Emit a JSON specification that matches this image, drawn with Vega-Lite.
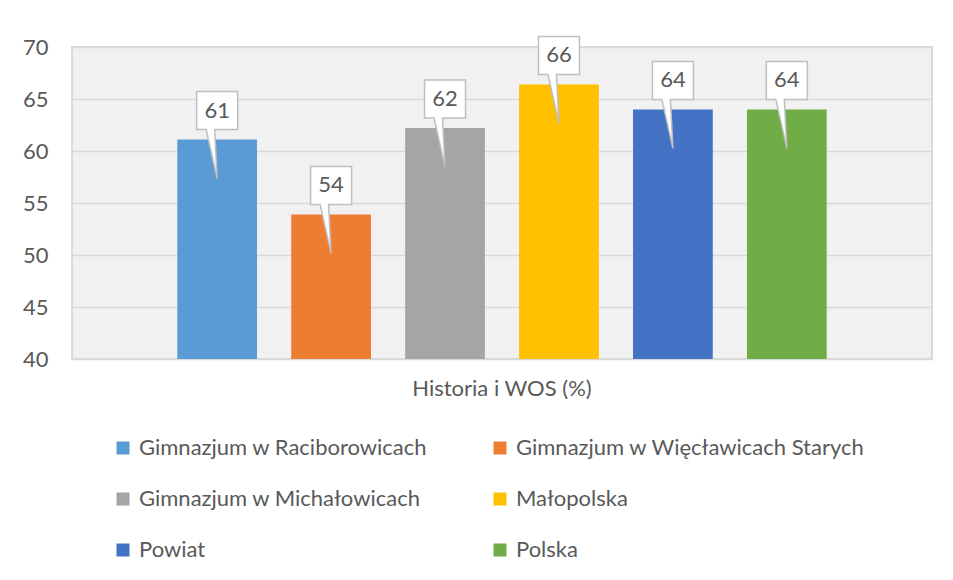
{
  "$schema": "https://vega.github.io/schema/vega-lite/v6.json",
  "width": 860,
  "height": 312,
  "autosize": {"type": "none"},
  "padding": {"left": 72, "top": 47, "right": 21, "bottom": 221},
  "background": "white",
  "data": {
    "values": [
      {"cat": "Historia i WOS (%)", "series": "Gimnazjum w Raciborowicach", "value": 61.1},
      {"cat": "Historia i WOS (%)", "series": "Gimnazjum w Więcławicach Starych", "value": 53.9},
      {"cat": "Historia i WOS (%)", "series": "Gimnazjum w Michałowicach", "value": 62.2},
      {"cat": "Historia i WOS (%)", "series": "Małopolska", "value": 66.4},
      {"cat": "Historia i WOS (%)", "series": "Powiat", "value": 64.0},
      {"cat": "Historia i WOS (%)", "series": "Polska", "value": 64.0}
    ]
  },
  "encoding": {
    "x": {
      "field": "cat", "type": "nominal",
      "scale": {"paddingOuter": 0.129, "paddingInner": 0},
      "axis": {"title": null, "labelAngle": 0, "domain": false, "ticks": false, "labelPadding": 19, "labelFont": "Lato", "labelFontSize": 22, "labelColor": "#595959"}
    },
    "xOffset": {
      "field": "series", "type": "nominal",
      "sort": ["Gimnazjum w Raciborowicach", "Gimnazjum w Więcławicach Starych", "Gimnazjum w Michałowicach", "Małopolska", "Powiat", "Polska"],
      "scale": {"paddingInner": 0.3, "paddingOuter": 0.15}
    },
    "y": {
      "field": "value", "type": "quantitative",
      "scale": {"domain": [40, 70], "nice": false, "zero": false},
      "axis": {"title": null, "values": [40, 45, 50, 55, 60, 65, 70], "domain": false, "ticks": false, "labelPadding": 24, "labelFont": "Lato", "labelFontSize": 22, "labelColor": "#595959", "gridColor": "#d9d9d9", "gridWidth": 1.5}
    }
  },
  "layer": [
    {
      "mark": {"type": "bar"},
      "encoding": {
        "y2": {"datum": 40},
        "color": {
          "field": "series", "type": "nominal",
          "scale": {
            "domain": ["Gimnazjum w Raciborowicach", "Gimnazjum w Więcławicach Starych", "Gimnazjum w Michałowicach", "Małopolska", "Powiat", "Polska"],
            "range": ["#5b9bd5", "#ed7d31", "#a5a5a5", "#ffc000", "#4472c4", "#70ad47"]
          },
          "legend": {
            "title": null, "orient": "none", "legendX": 40, "legendY": 390, "direction": "horizontal",
            "columns": 2, "symbolType": "square", "symbolSize": 169, "symbolStrokeWidth": 0,
            "labelFont": "Lato", "labelFontSize": 22, "labelColor": "#595959",
            "rowPadding": 29, "columnPadding": 61, "labelOffset": 5, "labelLimit": 400
          }
        }
      }
    },
    {
      "mark": {
        "type": "point",
        "shape": "M-0.41,-0.96L0.41,-0.96L0.41,-0.2L-0.05,-0.2L0,0.78L-0.22,-0.2L-0.41,-0.2Z",
        "size": 10000, "filled": true, "fill": "white", "stroke": "#bfbfbf", "strokeWidth": 1.5, "opacity": 1
      }
    },
    {
      "mark": {"type": "text", "dy": -29, "font": "Lato", "fontSize": 22, "color": "#595959"},
      "encoding": {"text": {"field": "value", "type": "quantitative", "format": ".0f"}}
    }
  ],
  "config": {"view": {"fill": "#f1f1f1", "stroke": "#d9d9d9", "strokeWidth": 2}}
}
